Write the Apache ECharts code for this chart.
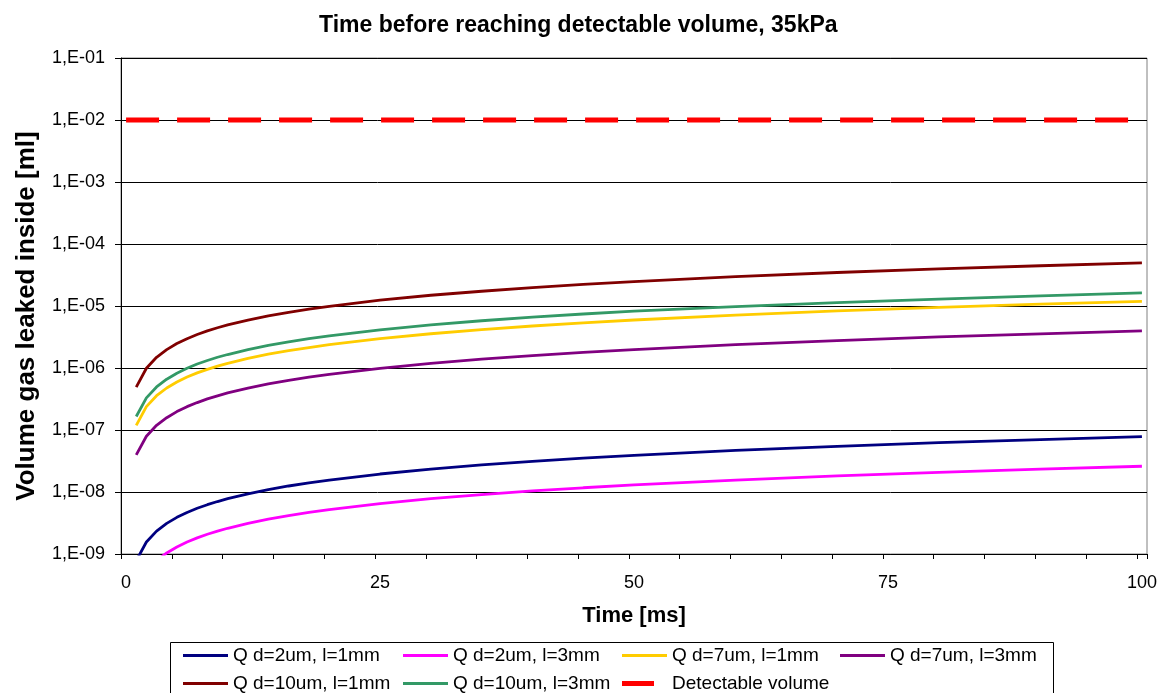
<!DOCTYPE html>
<html>
<head>
<meta charset="utf-8">
<script src="https://cdn.jsdelivr.net/npm/echarts@6/dist/echarts.min.js"></script>
<style>
  html, body { margin: 0; padding: 0; background: #fff; }
  #chart { width: 1166px; height: 693px; }
</style>
</head>
<body>
<div id="chart"></div>
<script>
// Time steps [ms] at which the leaked volume was sampled
const sampleTimes = [1, 2, 3, 4, 5, 6, 7, 8, 9, 10, 12, 14, 16, 18, 20, 25, 30, 35, 40, 45, 50, 60, 70, 80, 90, 100];

// Leaked volume [ml] per leak geometry
const qD2L1 = [7.8e-10, 1.56e-9, 2.34e-9, 3.12e-9, 3.9e-9, 4.68e-9, 5.46e-9, 6.24e-9, 7.02e-9, 7.8e-9, 9.36e-9, 1.09e-8, 1.25e-8, 1.4e-8, 1.56e-8, 1.95e-8, 2.34e-8, 2.73e-8, 3.12e-8, 3.51e-8, 3.9e-8, 4.68e-8, 5.46e-8, 6.24e-8, 7.02e-8, 7.8e-8];
const qD2L3 = [2.6e-10, 5.2e-10, 7.8e-10, 1.04e-9, 1.3e-9, 1.56e-9, 1.82e-9, 2.08e-9, 2.34e-9, 2.6e-9, 3.12e-9, 3.64e-9, 4.16e-9, 4.68e-9, 5.2e-9, 6.5e-9, 7.8e-9, 9.1e-9, 1.04e-8, 1.17e-8, 1.3e-8, 1.56e-8, 1.82e-8, 2.08e-8, 2.34e-8, 2.6e-8];
const qD7L1 = [1.19e-7, 2.38e-7, 3.57e-7, 4.76e-7, 5.95e-7, 7.14e-7, 8.33e-7, 9.52e-7, 1.07e-6, 1.19e-6, 1.43e-6, 1.67e-6, 1.9e-6, 2.14e-6, 2.38e-6, 2.98e-6, 3.57e-6, 4.17e-6, 4.76e-6, 5.36e-6, 5.95e-6, 7.14e-6, 8.33e-6, 9.52e-6, 1.07e-5, 1.19e-5];
const qD7L3 = [3.96e-8, 7.92e-8, 1.19e-7, 1.58e-7, 1.98e-7, 2.38e-7, 2.77e-7, 3.17e-7, 3.56e-7, 3.96e-7, 4.75e-7, 5.54e-7, 6.34e-7, 7.13e-7, 7.92e-7, 9.9e-7, 1.19e-6, 1.39e-6, 1.58e-6, 1.78e-6, 1.98e-6, 2.38e-6, 2.77e-6, 3.17e-6, 3.56e-6, 3.96e-6];
const qD10L1 = [4.9e-7, 9.9e-7, 1.49e-6, 1.98e-6, 2.48e-6, 2.97e-6, 3.47e-6, 3.96e-6, 4.46e-6, 4.95e-6, 5.94e-6, 6.93e-6, 7.92e-6, 8.91e-6, 9.9e-6, 1.24e-5, 1.49e-5, 1.73e-5, 1.98e-5, 2.23e-5, 2.48e-5, 2.97e-5, 3.47e-5, 3.96e-5, 4.46e-5, 4.95e-5];
const qD10L3 = [1.65e-7, 3.3e-7, 4.95e-7, 6.6e-7, 8.25e-7, 9.9e-7, 1.16e-6, 1.32e-6, 1.49e-6, 1.65e-6, 1.98e-6, 2.31e-6, 2.64e-6, 2.97e-6, 3.3e-6, 4.13e-6, 4.95e-6, 5.78e-6, 6.6e-6, 7.43e-6, 8.25e-6, 9.75e-6, 1.13e-5, 1.29e-5, 1.46e-5, 1.63e-5];
const detectableVolume = 1e-2;

// Axis categories (ms) and tick labels
const timeCategories = Array.from({ length: 101 }, (_, i) => String(i));
const xTickLabels = ['0', '25', '50', '75', '100'];
const yTickLabels = ['1,E-09', '1,E-08', '1,E-07', '1,E-06', '1,E-05', '1,E-04', '1,E-03', '1,E-02', '1,E-01'];

// Series names, in legend order
const seriesNames = ['Q d=2um, l=1mm', 'Q d=2um, l=3mm', 'Q d=7um, l=1mm', 'Q d=7um, l=3mm',
                     'Q d=10um, l=1mm', 'Q d=10um, l=3mm', 'Detectable volume'];

// Place sampled values on the category axis; gaps are bridged
function onAxis(values) {
  const out = timeCategories.map(() => null);
  sampleTimes.forEach((t, i) => { out[t] = values[i]; });
  return out;
}

const FONT = '"Liberation Sans", Arial, sans-serif';

function curve(name, color, values) {
  return {
    name, type: 'line', data: onAxis(values), connectNulls: true,
    symbol: 'none', smooth: false, clip: true,
    lineStyle: { color, width: 2.8 }, itemStyle: { color },
    emphasis: { disabled: true }
  };
}

// One legend block per entry so the entries sit in a fixed 4-column layout
function legendEntry(name, left, top, swatchW, swatchH, textPadLeft) {
  return {
    data: [name], left, top, padding: 0,
    icon: 'rect', itemWidth: swatchW, itemHeight: swatchH,
    itemStyle: { borderWidth: 0 },
    selectedMode: false,
    textStyle: { fontFamily: FONT, fontSize: 19, color: '#000', padding: [0, 0, 0, textPadLeft] }
  };
}

const colX = [183, 403, 622, 840];
const rowTop = [646, 674];

const chart = echarts.init(document.getElementById('chart'), null, { renderer: 'canvas' });
chart.setOption({
  animation: false,
  backgroundColor: '#ffffff',
  title: {
    text: 'Time before reaching detectable volume, 35kPa',
    left: 314, top: 9,
    textStyle: { fontFamily: FONT, fontSize: 23, fontWeight: 'bold', color: '#000' }
  },
  grid: {
    left: 121, right: 19, top: 58, bottom: 139,
    show: true, borderColor: '#808080', borderWidth: 1, backgroundColor: '#fff'
  },
  xAxis: {
    type: 'category', data: timeCategories, boundaryGap: true,
    name: 'Time [ms]', nameLocation: 'middle', nameGap: 51,
    nameTextStyle: { fontFamily: FONT, fontSize: 22, fontWeight: 'bold', color: '#000' },
    axisLine: { lineStyle: { color: '#000', width: 1 } },
    axisTick: { show: true, interval: 4, length: 5, inside: false, lineStyle: { color: '#000' } },
    axisLabel: {
      interval: 24, margin: 20, color: '#000', fontFamily: FONT, fontSize: 18,
      formatter: v => (xTickLabels.includes(v) ? v : '')
    },
    splitLine: { show: false }
  },
  yAxis: {
    type: 'log', logBase: 10, min: 1e-9, max: 1e-1, interval: 1,
    name: 'Volume gas leaked inside [ml]', nameLocation: 'middle', nameGap: 81,
    nameTextStyle: { fontFamily: FONT, fontSize: 26, fontWeight: 'bold', color: '#000', padding: [0, 20, 0, 0] },
    axisLine: { show: true, lineStyle: { color: '#000', width: 1 } },
    axisTick: { show: true, length: 6, inside: false, lineStyle: { color: '#000' } },
    axisLabel: {
      margin: 16, color: '#000', fontFamily: FONT, fontSize: 18,
      formatter: v => {
        const i = Math.round(Math.log10(v)) + 9;
        return yTickLabels[i] || '';
      }
    },
    splitLine: { show: true, lineStyle: { color: '#000', width: 1 } },
    minorTick: { show: false }, minorSplitLine: { show: false }
  },
  legend: [
    legendEntry(seriesNames[0], colX[0], rowTop[0], 45, 3, 0),
    legendEntry(seriesNames[1], colX[1], rowTop[0], 45, 3, 0),
    legendEntry(seriesNames[2], colX[2], rowTop[0], 45, 3, 0),
    legendEntry(seriesNames[3], colX[3], rowTop[0], 45, 3, 0),
    legendEntry(seriesNames[4], colX[0], rowTop[1], 45, 3, 0),
    legendEntry(seriesNames[5], colX[1], rowTop[1], 45, 3, 0),
    legendEntry(seriesNames[6], colX[2], rowTop[1], 32, 5, 13)
  ],
  graphic: [{
    type: 'rect', left: 170, top: 642, silent: true, z: -1,
    shape: { width: 883, height: 60 },
    style: { fill: '#fff', stroke: '#000', lineWidth: 1 }
  }],
  series: [
    curve(seriesNames[0], '#000080', qD2L1),
    curve(seriesNames[1], '#FF00FF', qD2L3),
    curve(seriesNames[2], '#FFCC00', qD7L1),
    curve(seriesNames[3], '#800080', qD7L3),
    curve(seriesNames[4], '#800000', qD10L1),
    curve(seriesNames[5], '#339966', qD10L3),
    {
      name: seriesNames[6], type: 'line',
      data: timeCategories.map(() => detectableVolume),
      symbol: 'none',
      lineStyle: { color: '#FF0000', width: 5, type: [33, 18] },
      itemStyle: { color: '#FF0000' },
      emphasis: { disabled: true }
    }
  ]
});
</script>
</body>
</html>
